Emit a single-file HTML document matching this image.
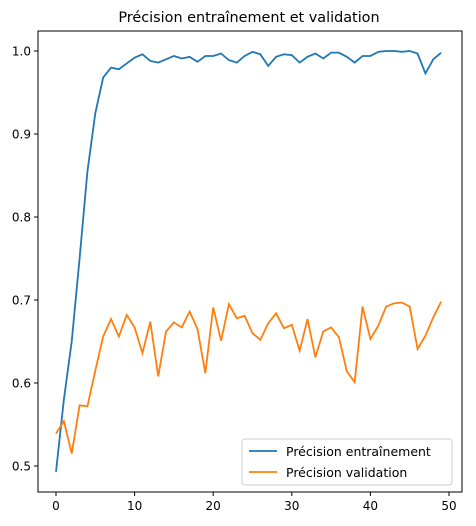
<!DOCTYPE html>
<html><head><meta charset="utf-8"><style>
body{margin:0;background:#fff;font-family:"Liberation Sans","DejaVu Sans",sans-serif;}
svg text{font-family:"DejaVu Sans","Liberation Sans",sans-serif;}
</style></head><body>
<svg id="chart" width="476" height="521" viewBox="0 0 476 521" xmlns="http://www.w3.org/2000/svg">
<rect width="476" height="521" fill="#fff"/>
<text x="249" y="22" font-size="14.4" text-anchor="middle">Précision entraînement et validation</text>
<g id="ticks"></g>
<g id="lines"></g>
<rect x="38" y="31" width="424" height="461" fill="none" stroke="#000" stroke-width="1"/>
<g>
<rect x="242" y="439" width="210" height="46" rx="3" fill="#fff" fill-opacity="0.8" stroke="#ccc"/>
<line x1="249" y1="451" x2="277" y2="451" stroke="#1f77b4" stroke-width="1.8"/>
<text x="286" y="456" font-size="12.5">Précision entraînement</text>
<line x1="249" y1="472" x2="277" y2="472" stroke="#ff7f0e" stroke-width="1.8"/>
<text x="286" y="477" font-size="12.5">Précision validation</text>
</g>
</svg>
<script>
const epochs = Array.from({length:50},(_, i)=>i);
const trainAcc = [0.493,0.58,0.65,0.75,0.855,0.925,0.968,0.98,0.978,0.985,0.992,0.996,0.988,0.986,0.99,0.994,0.991,0.993,0.987,0.994,0.994,0.997,0.989,0.986,0.994,0.999,0.996,0.982,0.993,0.996,0.995,0.986,0.993,0.997,0.991,0.998,0.998,0.993,0.986,0.994,0.994,0.999,1.0,1.0,0.999,1.0,0.997,0.973,0.99,0.998];
const valAcc = [0.539,0.554,0.515,0.573,0.572,0.615,0.656,0.677,0.656,0.682,0.667,0.636,0.674,0.608,0.662,0.673,0.667,0.686,0.665,0.612,0.691,0.651,0.695,0.678,0.681,0.66,0.652,0.672,0.684,0.666,0.67,0.639,0.677,0.631,0.662,0.667,0.655,0.614,0.601,0.692,0.653,0.669,0.692,0.696,0.697,0.692,0.641,0.657,0.679,0.698];
const xTicks = [0,10,20,30,40,50];
const yTicks = [0.5,0.6,0.7,0.8,0.9,1.0];
const NS="http://www.w3.org/2000/svg";
const xs = v => 56 + v*(449-56)/50;
const ys = v => 466 - (v-0.5)*(466-51)/0.5;
const tg=document.getElementById('ticks');
xTicks.forEach(t=>{
  const l=document.createElementNS(NS,'line');
  l.setAttribute('x1',xs(t));l.setAttribute('x2',xs(t));l.setAttribute('y1',492);l.setAttribute('y2',496);l.setAttribute('stroke','#000');
  
  
  tg.appendChild(l);
  const tx=document.createElementNS(NS,'text');
  tx.setAttribute('x',xs(t));tx.setAttribute('y',510);tx.setAttribute('font-size','12');tx.setAttribute('text-anchor','middle');
  tx.textContent=t;
  
  
  tg.appendChild(tx);
});
yTicks.forEach(t=>{
  const l=document.createElementNS(NS,'line');
  l.setAttribute('x1',34);l.setAttribute('x2',38);l.setAttribute('y1',ys(t));l.setAttribute('y2',ys(t));l.setAttribute('stroke','#000');
  
  
  tg.appendChild(l);
  const tx=document.createElementNS(NS,'text');
  tx.setAttribute('x',31);tx.setAttribute('y',ys(t)+4.5);tx.setAttribute('font-size','12');tx.setAttribute('text-anchor','end');
  tx.textContent=t.toFixed(1);
  
  
  tg.appendChild(tx);
});
const lg=document.getElementById('lines');
[[trainAcc,'#1f77b4','train-accuracy-line'],[valAcc,'#ff7f0e','validation-accuracy-line']].forEach(([d,c,n])=>{
  const p=document.createElementNS(NS,'polyline');
  p.setAttribute('points',d.map((v,i)=>xs(epochs[i])+','+ys(v)).join(' '));
  p.setAttribute('fill','none');p.setAttribute('stroke',c);p.setAttribute('stroke-width','1.8');
  
  
  lg.appendChild(p);
});
</script>
</body></html>
